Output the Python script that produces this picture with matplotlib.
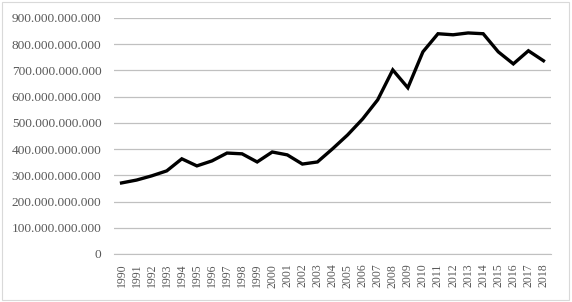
import matplotlib.pyplot as plt
from matplotlib.ticker import FuncFormatter
from matplotlib.patches import Rectangle

years = list(range(1990, 2019))
values_bn = [271, 282, 298, 317, 363, 336, 355, 385, 382, 351,
             389, 378, 343, 351, 401, 454, 515, 588, 702, 634,
             771, 840, 836, 843, 840, 771, 725, 775, 737]
values = [v * 1e9 for v in values_bn]

plt.rcParams["font.family"] = ["Liberation Serif", "DejaVu Serif"]

fig = plt.figure(figsize=(5.72, 3.02), dpi=100)
ax = fig.add_axes([114 / 572, 1 - 254 / 302, 437 / 572, 236 / 302])

x = list(range(len(years)))
ax.plot(x, values, color="black", linewidth=2.4, solid_joinstyle="miter")

ax.set_xlim(-0.5, len(years) - 0.5)
ax.set_ylim(0, 900e9)
ax.set_yticks([i * 100e9 for i in range(10)])
ax.yaxis.set_major_formatter(FuncFormatter(lambda v, p: f"{v:,.0f}".replace(",", ".")))
ax.set_xticks(x)
ax.set_xticklabels([str(y) for y in years], rotation=90)

ax.grid(axis="y", color="#c0c0c0", linewidth=0.9)
ax.set_axisbelow(True)
for side in ["top", "right", "left"]:
    ax.spines[side].set_visible(False)
ax.spines["bottom"].set_color("#c0c0c0")
ax.tick_params(axis="both", length=0, colors="#595959")
ax.tick_params(axis="y", pad=9, labelsize=9.6)
ax.tick_params(axis="x", pad=7, labelsize=8.5)

fig.patches.append(Rectangle((0.004, 0.006), 0.99, 0.988, transform=fig.transFigure,
                             fill=False, edgecolor="#d9d9d9", linewidth=0.8))

fig.savefig("out.png", dpi=100)
